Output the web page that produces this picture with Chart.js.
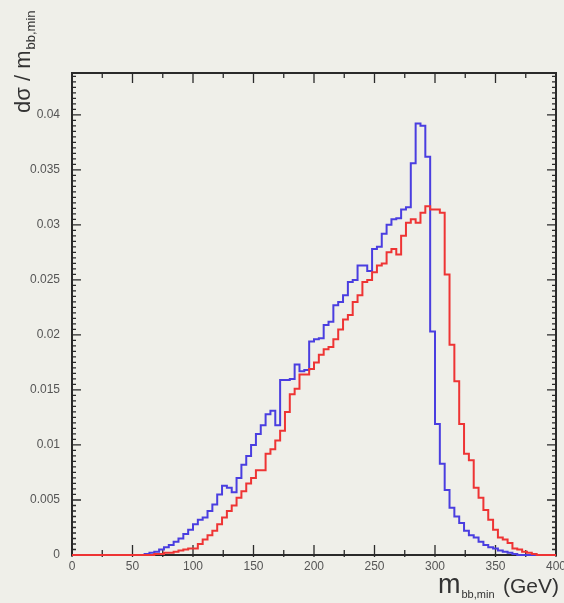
<!DOCTYPE html>
<html>
<head>
<meta charset="utf-8">
<script src="https://cdn.jsdelivr.net/npm/chart.js@4/dist/chart.umd.min.js"></script>
<style>
  html, body { margin: 0; padding: 0; background: #efefe9; }
  #wrap { width: 564px; height: 603px; }
  canvas { display: block; }
</style>
</head>
<body>
<div id="wrap"><canvas id="c" width="564" height="603"></canvas></div>
<script>
// Bin edges of m_bb,min (GeV), 4 GeV bins
const binEdges = [0,4,8,12,16,20,24,28,32,36,40,44,48,52,56,60,64,68,72,76,80,84,88,92,96,
  100,104,108,112,116,120,124,128,132,136,140,144,148,152,156,160,164,168,172,176,180,184,188,192,196,
  200,204,208,212,216,220,224,228,232,236,240,244,248,252,256,260,264,268,272,276,280,284,288,292,296,
  300,304,308,312,316,320,324,328,332,336,340,344,348,352,356,360,364,368,372,376,380,384,388,392,396,400];

// Blue histogram (one value per bin)
const blueValues = [0,0,0,0,0,0,0,0,0,0,0,0,0,0,0,
  0.0001,0.0002,0.0003,0.0005,0.0007,0.0009,0.0012,0.0015,0.0019,0.0023,
  0.0028,0.0032,0.0034,0.0040,0.0046,0.0055,0.0063,0.0061,0.0057,0.0070,
  0.0082,0.0090,0.0100,0.0110,0.0118,0.0128,0.0131,0.0118,0.0159,0.0159,
  0.0160,0.0173,0.0167,0.0168,0.0194,0.0196,0.0197,0.0209,0.0212,0.0227,
  0.0230,0.0236,0.0248,0.0250,0.0263,0.0263,0.0258,0.0278,0.0280,0.0292,
  0.0300,0.0305,0.0306,0.0314,0.0316,0.0356,0.0392,0.0390,0.0362,0.0203,
  0.0119,0.0083,0.0059,0.0043,0.0035,0.0029,0.0022,0.0018,0.0016,0.0012,
  0.0009,0.0007,0.0006,0.0004,0.0003,0.0002,0.0001,
  0,0,0,0,0,0,0,0];

// Red histogram (one value per bin)
const redValues = [0,0,0,0,0,0,0,0,0,0,0,0,0,0,0,0,0,
  0.0001,0.0001,0.0002,0.0002,0.0003,0.0004,0.0005,0.0006,0.0006,
  0.0010,0.0014,0.0018,0.0022,0.0028,0.0034,0.0040,0.0045,0.0052,0.0058,
  0.0065,0.0070,0.0077,0.0077,0.0092,0.0096,0.0104,0.0113,0.0130,0.0146,
  0.0151,0.0164,0.0164,0.0169,0.0175,0.0182,0.0187,0.0189,0.0196,0.0205,
  0.0214,0.0218,0.0230,0.0236,0.0248,0.0250,0.0257,0.0263,0.0265,0.0275,
  0.0278,0.0273,0.0290,0.0302,0.0305,0.0302,0.0311,0.0317,0.0314,0.0314,
  0.0311,0.0255,0.0191,0.0158,0.0119,0.0092,0.0086,0.0061,0.0052,0.0041,
  0.0032,0.0023,0.0016,0.0014,0.0011,0.0006,0.0005,0.0003,0.0002,0.0001,
  0,0,0,0];

const xTickLabels = ['0','50','100','150','200','250','300','350','400'];
const yTickLabels = ['0','0.005','0.01','0.015','0.02','0.025','0.03','0.035','0.04'];

function histPoints(values) {
  const pts = values.map((v, i) => ({ x: binEdges[i], y: v }));
  pts.push({ x: binEdges[binEdges.length - 1], y: values[values.length - 1] });
  return pts;
}

const frameTicks = {
  id: 'frameTicks',
  beforeDatasetsDraw(chart) {
    const { ctx, chartArea: a, scales: { x, y } } = chart;
    ctx.save();
    ctx.strokeStyle = '#2a2a2a';
    ctx.lineWidth = 2;
    ctx.strokeRect(a.left, a.top, a.right - a.left, a.bottom - a.top);
    ctx.lineWidth = 1.3;
    ctx.beginPath();
    for (let v = 0; v <= 400; v += 25) {
      const px = x.getPixelForValue(v);
      const len = (v % 50 === 0) ? 10 : 5;
      ctx.moveTo(px, a.bottom + 2); ctx.lineTo(px, a.bottom - len);
      ctx.moveTo(px, a.top); ctx.lineTo(px, a.top + len);
    }
    for (let k = 0; k * 0.0005 <= y.max + 1e-9; k++) {
      const py = y.getPixelForValue(k * 0.0005);
      const len = (k % 10 === 0) ? 9 : 4;
      ctx.moveTo(a.left - 1, py); ctx.lineTo(a.left + len, py);
      ctx.moveTo(a.right, py); ctx.lineTo(a.right - len, py);
    }
    ctx.stroke();
    ctx.restore();
  },
  afterDraw(chart) {
    const { ctx } = chart;
    ctx.save();
    ctx.fillStyle = '#333';
    // Y axis title (rotated)
    ctx.translate(30, 113);
    ctx.rotate(-Math.PI / 2);
    ctx.textBaseline = 'alphabetic';
    ctx.font = '22px "Liberation Sans", Arial, sans-serif';
    const main = 'd\u03c3 / m';
    ctx.fillText(main, 0, 0);
    const w = ctx.measureText(main).width;
    ctx.font = '13px "Liberation Sans", Arial, sans-serif';
    ctx.fillText('bb,min', w + 1, 5);
    ctx.restore();

    // X axis title
    ctx.save();
    ctx.fillStyle = '#333';
    ctx.textBaseline = 'alphabetic';
    ctx.font = '27px "Liberation Sans", Arial, sans-serif';
    ctx.fillText('m', 438, 593);
    const mw = ctx.measureText('m').width;
    ctx.font = '11px "Liberation Sans", Arial, sans-serif';
    ctx.fillText('bb,min', 438 + mw + 1, 598);
    ctx.font = '21px "Liberation Sans", Arial, sans-serif';
    ctx.fillText('(GeV)', 503, 593);
    ctx.restore();
  }
};

new Chart(document.getElementById('c'), {
  type: 'line',
  data: {
    datasets: [
      {
        label: 'red',
        data: histPoints(redValues),
        borderColor: '#ee3434',
        borderWidth: 2,
        stepped: 'before',
        pointRadius: 0,
        fill: false,
        clip: false
      },
      {
        label: 'blue',
        data: histPoints(blueValues),
        borderColor: '#4a3ee0',
        borderWidth: 2,
        stepped: 'before',
        pointRadius: 0,
        fill: false,
        clip: false
      }
    ]
  },
  options: {
    responsive: false,
    animation: false,
    devicePixelRatio: 1,
    layout: { padding: { left: 0, top: 73, right: 8, bottom: 0 } },
    plugins: { legend: { display: false }, tooltip: { enabled: false } },
    scales: {
      x: {
        type: 'linear',
        min: 0, max: 400,
        grid: { display: false, drawTicks: false },
        border: { display: false },
        ticks: {
          stepSize: 50,
          padding: 4,
          color: '#555',
          font: { size: 12, family: '"Liberation Sans", Arial, sans-serif' },
          maxRotation: 0,
          callback: (v, i) => xTickLabels[i] ?? ''
        },
        afterFit(s) { s.height = 48; s.paddingLeft = 0; s.paddingRight = 0; }
      },
      y: {
        type: 'linear',
        min: 0, max: 0.0438,
        grid: { display: false, drawTicks: false },
        border: { display: false },
        ticks: {
          stepSize: 0.005,
          includeBounds: false,
          padding: 12,
          color: '#555',
          font: { size: 12, family: '"Liberation Sans", Arial, sans-serif' },
          callback: (v, i) => yTickLabels[i] ?? ''
        },
        afterFit(s) { s.width = 72; s.paddingTop = 0; s.paddingBottom = 0; }
      }
    }
  },
  plugins: [frameTicks]
});
</script>
</body>
</html>
